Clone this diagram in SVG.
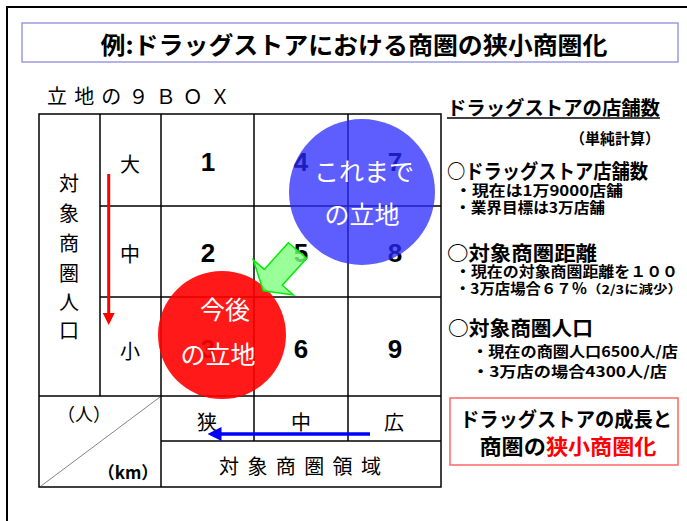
<svg xmlns="http://www.w3.org/2000/svg" width="687" height="521" viewBox="0 0 687 521">
<style>
  text { font-family: "Noto Sans CJK JP", "Liberation Sans", sans-serif; dominant-baseline: central; fill: #000; }
  .grid { stroke: #000; stroke-width: 1.5; fill: none; }
  .lbl { font-size: 20px; text-anchor: middle; }
  .num { font-family: "Liberation Sans", "Noto Sans CJK JP", sans-serif; font-size: 26px; font-weight: bold; text-anchor: middle; }
  .ctext { font-size: 25px; fill: #fff; text-anchor: middle; }
  .rp { font-weight: bold; }
  .h { font-size: 20px; }
  .s { font-size: 14.5px; }
</style>
<defs>
  <marker id="ahRed" markerWidth="4" markerHeight="4" refX="3" refY="2" orient="auto" markerUnits="strokeWidth">
    <path d="M0,0 L4,2 L0,4 Z" fill="#ff0000"/>
  </marker>
  <marker id="ahBlue" markerWidth="4" markerHeight="4" refX="3" refY="2" orient="auto" markerUnits="strokeWidth">
    <path d="M0,0 L4,2 L0,4 Z" fill="#0000ff"/>
  </marker>
</defs>
<rect width="687" height="521" fill="#fff"/>
<path d="M7,521 V7 H687" fill="none" stroke="#000" stroke-width="2"/>

<g id="title">
  <rect x="22" y="23" width="656" height="39" fill="#fff" stroke="#9a9ae0" stroke-width="1.5"/>
  <text x="354" y="43" font-size="24" font-weight="bold" text-anchor="middle" textLength="507" lengthAdjust="spacingAndGlyphs">例:ドラッグストアにおける商圏の狭小商圏化</text>
</g>

<g id="box-label">
  <text x="47" y="95" font-size="20" textLength="183" lengthAdjust="spacing">立地の９ＢＯＸ</text>
</g>

<g id="grid">
  <rect class="grid" x="39" y="114" width="402" height="373"/>
  <line class="grid" x1="100" y1="114" x2="100" y2="396"/>
  <line class="grid" x1="161" y1="114" x2="161" y2="487"/>
  <line class="grid" x1="254" y1="114" x2="254" y2="441"/>
  <line class="grid" x1="348" y1="114" x2="348" y2="441"/>
  <line class="grid" x1="100" y1="206" x2="441" y2="206"/>
  <line class="grid" x1="100" y1="297" x2="441" y2="297"/>
  <line class="grid" x1="39" y1="396" x2="441" y2="396"/>
  <line class="grid" x1="161" y1="441" x2="441" y2="441"/>
  <line x1="41" y1="486" x2="160" y2="397" stroke="#666" stroke-width="0.8"/>
</g>

<g id="axis-population">
  <text class="lbl" x="69" y="182">対</text>
  <text class="lbl" x="69" y="212">象</text>
  <text class="lbl" x="69" y="242">商</text>
  <text class="lbl" x="69" y="272">圏</text>
  <text class="lbl" x="69" y="301">人</text>
  <text class="lbl" x="69" y="329">口</text>
  <text class="lbl" x="130" y="163">大</text>
  <text class="lbl" x="130" y="253">中</text>
  <text class="lbl" x="130" y="350">小</text>
</g>

<g id="axis-area">
  <text class="lbl" x="207" y="421">狭</text>
  <text class="lbl" x="301" y="421">中</text>
  <text class="lbl" x="394" y="421">広</text>
  <text class="lbl" x="300" y="465" textLength="162" lengthAdjust="spacing">対象商圏領域</text>
  <text x="84" y="413" font-size="18" text-anchor="middle">（人）</text>
  <text x="128" y="471" font-size="17" font-weight="bold" text-anchor="middle">（km）</text>
</g>

<g id="cells">
  <text class="num" x="208" y="162">1</text>
  <text class="num" x="208" y="253">2</text>
  <text class="num" x="208" y="349">3</text>
  <text class="num" x="301" y="162">4</text>
  <text class="num" x="301" y="253">5</text>
  <text class="num" x="301" y="349">6</text>
  <text class="num" x="395" y="162">7</text>
  <text class="num" x="395" y="253">8</text>
  <text class="num" x="395" y="349">9</text>
</g>

<g id="circle-past">
  <circle cx="362" cy="192" r="73" fill="#2828ff" fill-opacity="0.75"/>
  <text class="ctext" x="364" y="170">これまで</text>
  <text class="ctext" x="362" y="213">の立地</text>
</g>

<g id="circle-future">
  <circle cx="222" cy="335" r="64" fill="#ff0000" fill-opacity="0.9"/>
  <text class="ctext" x="225" y="308">今後</text>
  <text class="ctext" x="218" y="353">の立地</text>
</g>

<g id="connectors">
  <polygon points="288.3,242.7 306.7,258.3 282.3,285.2 293.3,295 263.3,290.7 253.3,260 264.3,269.4" fill="#80ff80" fill-opacity="0.8" stroke="#00ee00" stroke-width="1.5" stroke-linejoin="miter"/>
  <line x1="108.7" y1="174" x2="108.7" y2="322" stroke="#ff0000" stroke-width="3" marker-end="url(#ahRed)"/>
  <line x1="370" y1="434" x2="211" y2="434" stroke="#0000ff" stroke-width="3.5" marker-end="url(#ahBlue)"/>
</g>

<g id="store-panel" class="rp">
  <text class="rp" x="447" y="106" font-size="19" textLength="213" lengthAdjust="spacingAndGlyphs">ドラッグストアの店舗数</text>
  <line x1="447" y1="118" x2="660" y2="118" stroke="#000" stroke-width="1.5"/>
  <text class="rp" x="660" y="137" font-size="15" text-anchor="end">（単純計算）</text>
  <text class="rp h" x="447" y="170" textLength="201" lengthAdjust="spacingAndGlyphs">○ドラッグストア店舗数</text>
  <text class="rp s" x="455" y="189" textLength="168" lengthAdjust="spacingAndGlyphs">・現在は1万9000店舗</text>
  <text class="rp s" x="455" y="206" textLength="150" lengthAdjust="spacingAndGlyphs">・業界目標は3万店舗</text>
  <text class="rp h" x="447" y="252" textLength="150" lengthAdjust="spacingAndGlyphs">○対象商圏距離</text>
  <text class="rp s" x="455" y="270" textLength="223" lengthAdjust="spacingAndGlyphs">・現在の対象商圏距離を１００</text>
  <text class="rp s" x="455" y="287" textLength="132" lengthAdjust="spacingAndGlyphs">・3万店場合６７％</text>
  <text class="rp" x="587" y="288" font-size="12" textLength="95" lengthAdjust="spacingAndGlyphs">（2/3に減少）</text>
  <text class="rp h" x="448" y="327" textLength="145" lengthAdjust="spacingAndGlyphs">○対象商圏人口</text>
  <text class="rp s" x="472" y="350" textLength="206" lengthAdjust="spacingAndGlyphs">・現在の商圏人口6500人/店</text>
  <text class="rp s" x="472" y="370" textLength="195" lengthAdjust="spacingAndGlyphs">・3万店の場合4300人/店</text>
</g>

<g id="conclusion">
  <rect x="450" y="398" width="228" height="67" fill="#fff" stroke="#ff6666" stroke-width="1.5"/>
  <text x="566" y="418" font-size="20" font-weight="bold" text-anchor="middle" textLength="212" lengthAdjust="spacingAndGlyphs">ドラッグストアの成長と</text>
  <text x="568" y="445" font-size="21" font-weight="bold" text-anchor="middle" textLength="177" lengthAdjust="spacingAndGlyphs">商圏の<tspan fill="#ff0000">狭小商圏化</tspan></text>
</g>
</svg>
